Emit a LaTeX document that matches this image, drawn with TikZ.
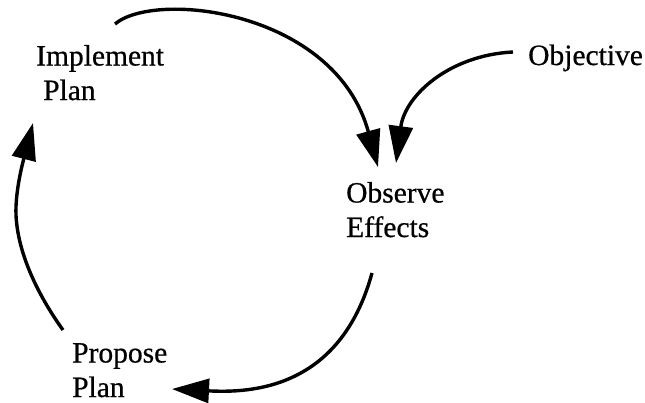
\documentclass[tikz,border=0pt]{standalone}
\usepackage{fontspec}
\setmainfont{Liberation Serif}[FakeBold=0.6]
\usetikzlibrary{arrows.meta}

\begin{document}
\begin{tikzpicture}[x=1pt,y=-1pt,
  label/.style={inner sep=0pt,anchor=base west,align=left,
    font=\fontsize{29.5}{34.5}\selectfont},
  flow/.style={line width=3.4pt,
    -{Triangle[length=37pt,width=24pt]}}]

\useasboundingbox (0,0) rectangle (645,402);

% stages of the cycle (anchored on the baseline of the last line)
\node[label] (implement) at (36,100) {Implement\\\hspace{7pt}Plan};
\node[label] (objective) at (528,65) {Objective};
\node[label] (observe)   at (346,237) {Observe\\Effects};
\node[label] (propose)   at (72,397) {Propose\\Plan};

% connector ends
\coordinate (implOut) at (115,24);
\coordinate (obsInL)  at (378,167);
\coordinate (objOut)  at (513,52);
\coordinate (obsInR)  at (396,163);
\coordinate (obsOut)  at (372,273);
\coordinate (propIn)  at (172,389);
\coordinate (propOut) at (63,330);
\coordinate (leftMid) at (16,215);
\coordinate (implIn)  at (33,123);

% arrows
\draw[flow] (implOut) .. controls (155,-10) and (335,10) .. (obsInL);
\draw[flow] (objOut) .. controls (450,55) and (405,95) .. (obsInR);
\draw[flow] (obsOut) .. controls (340,390) and (250,393) .. (propIn);
\draw[flow] (propOut) .. controls (45,305) and (18,260) .. (leftMid)
                      .. controls (15,190) and (24,158) .. (implIn);
\end{tikzpicture}
\end{document}
